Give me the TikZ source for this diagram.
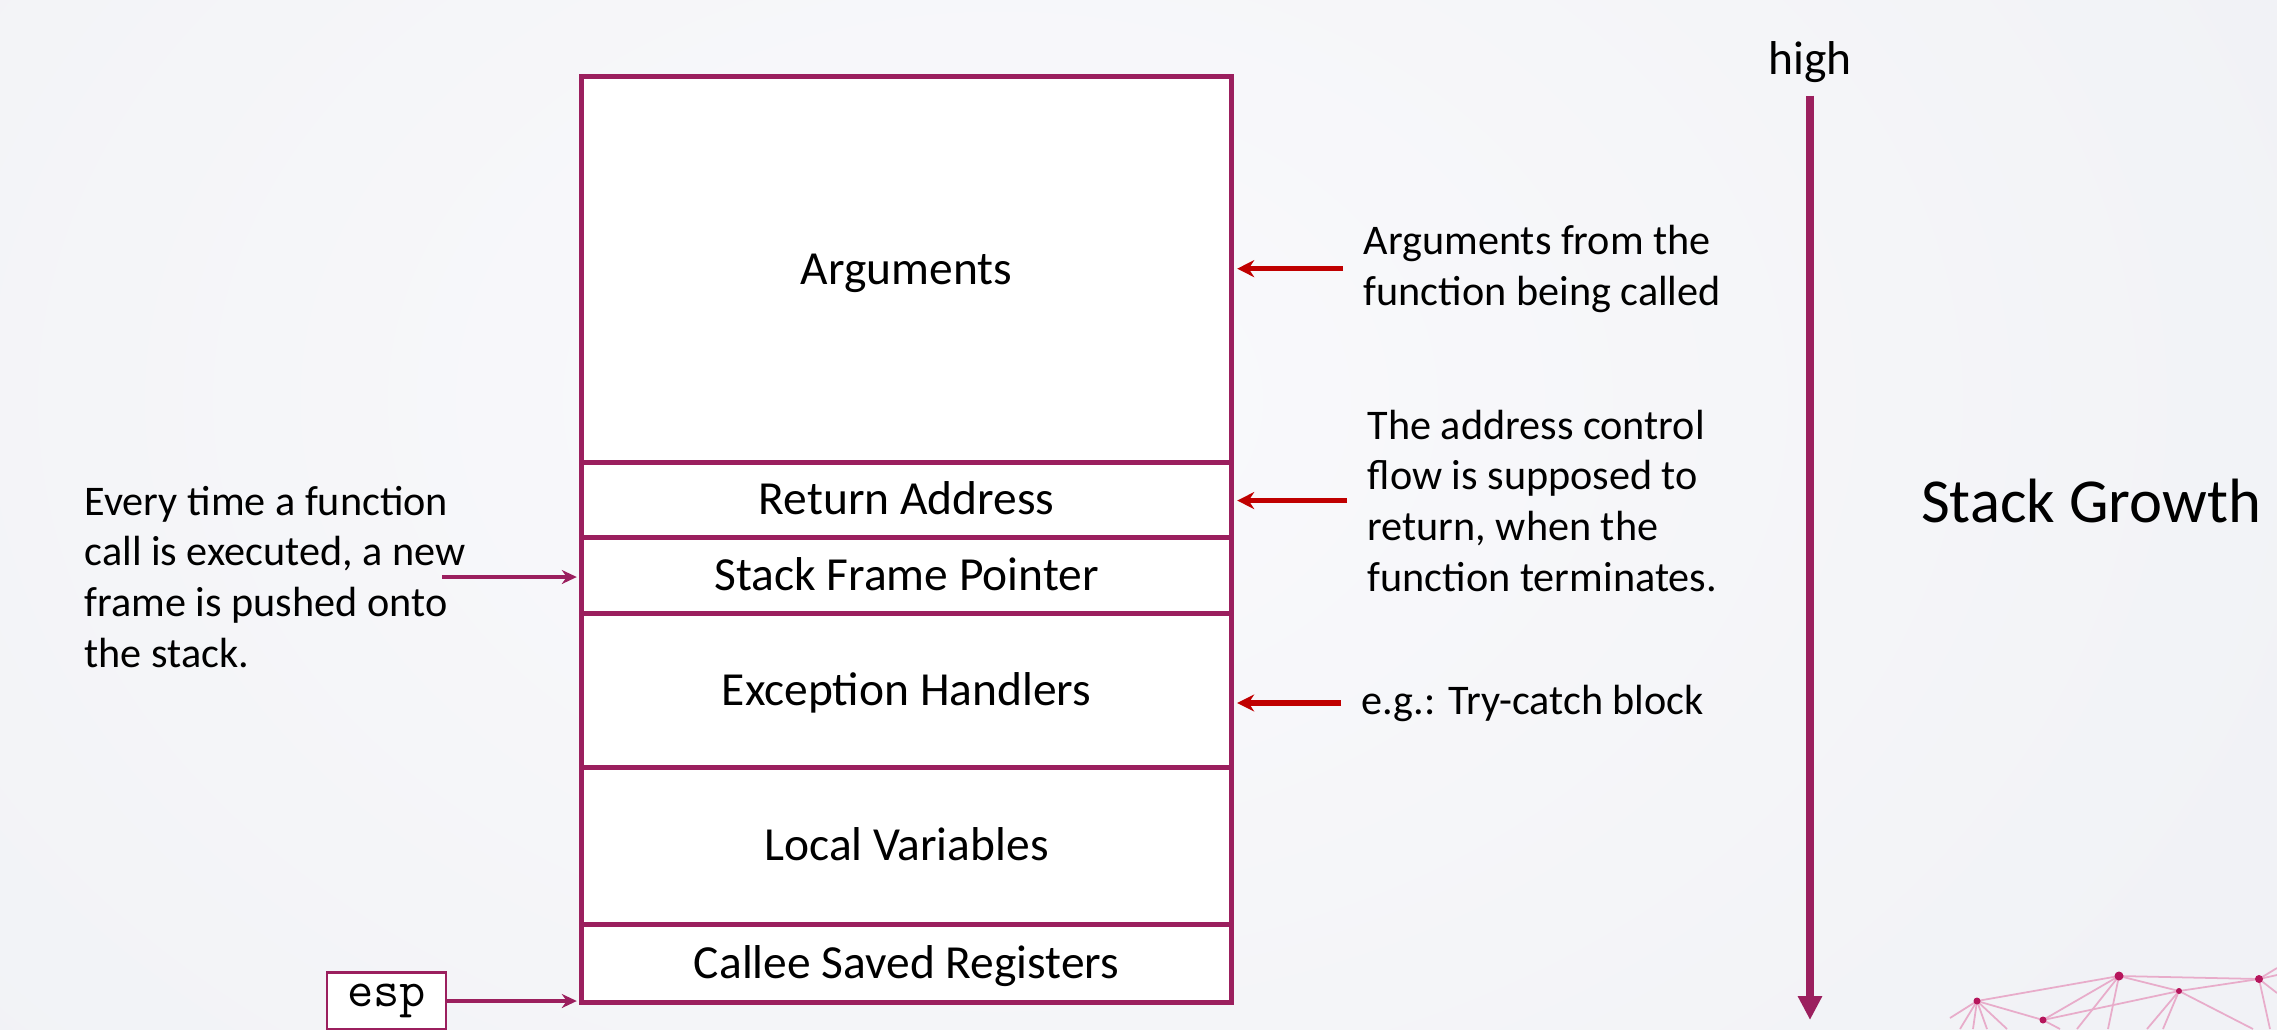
\documentclass[tikz,border=0pt]{standalone}
\usepackage{fontspec}
\setmainfont{Carlito}
\usetikzlibrary{arrows.meta,positioning}
\definecolor{stackpurple}{RGB}{155,31,94}
\definecolor{arrowred}{RGB}{192,0,0}
\definecolor{netpink}{RGB}{232,172,202}
\definecolor{netdot}{RGB}{182,22,92}
\definecolor{bglight}{RGB}{250,250,252}
\definecolor{bgdark}{RGB}{241,242,246}
\tikzset{
  frame/.style={draw=stackpurple,line width=1.4pt,fill=white,outer sep=0pt,
    minimum width=6.49cm,text height=11pt,text depth=2.5pt,font=\fontsize{13.5}{16}\selectfont},
  note/.style={align=left,inner xsep=0.2cm,inner ysep=0pt,font=\fontsize{12}{14.4}\selectfont},
  redarrow/.style={draw=arrowred,line width=1.6pt,-{Stealth[length=0.17cm,width=0.17cm]},shorten >=0.06cm},
  pusharrow/.style={draw=stackpurple,line width=1.2pt,-{Stealth[length=0.15cm,width=0.14cm]},shorten >=0.05cm},
}

\begin{document}
\begin{tikzpicture}[x=0.01cm,y=-0.01cm]
    % background
    \useasboundingbox (0,0) rectangle (2277,1029);
    \shade[inner color=bglight,outer color=bgdark] (-400,-600) rectangle (2400,1400);
    % network in the corner
    \coordinate (n1) at (1977,1001);
    \coordinate (n2) at (2043,1020);
    \coordinate (n3) at (2119,976);
    \coordinate (n4) at (2179,991);
    \coordinate (n5) at (2259,979);
    \foreach \a/\b in {n1/n2,n1/n3,n2/n3,n2/n4,n3/n4,n3/n5,n4/n5}
      \draw[netpink,line width=0.5pt] (\a) -- (\b);
    \foreach \a/\x/\y in {n1/1950/1018,n1/1960/1029,n1/1973/1029,n1/1987/1029,n1/2007/1029,
      n2/2060/1029,n3/2077/1029,n3/2108/1029,n4/2147/1029,n4/2163/1029,n4/2253/1029,
      n5/2277/968,n5/2277/975,n5/2270/1029,n5/2277/993}
      \draw[netpink,line width=0.5pt] (\a) -- (\x,\y);
    \foreach \a/\r in {n1/3.5,n2/3.5,n3/4.5,n4/3,n5/4}
      \fill[netdot] (\a) circle (\r);

    % the stack frame
    \node[frame,minimum height=3.85cm] (args) at (906.5,269.5) {Arguments};
    \node[frame,minimum height=0.75cm,below=0pt of args] (ret) {Return Address};
    \node[frame,minimum height=0.76cm,below=0pt of ret] (sfp) {Stack Frame Pointer};
    \node[frame,minimum height=1.54cm,below=0pt of sfp] (exc) {Exception Handlers};
    \node[frame,minimum height=1.57cm,below=0pt of exc] (loc) {Local Variables};
    \node[frame,minimum height=0.78cm,below=0pt of loc] (csr) {Callee Saved Registers};

    % notes on the right
    \node[note,anchor=base west] (argnote) at (1343,305) {Arguments from the\\function being called};
    \node[note,anchor=base west] (retnote) at (1347,591) {The address control\\flow is supposed to\\return, when the\\function terminates.};
    \node[note,anchor=base west] (egnote) at (1341,714) {e.g.: Try-catch block};
    \draw[redarrow] (argnote.west) -- (argnote.west -| args.east);
    \draw[redarrow] (retnote.west) -- (retnote.west -| ret.east);
    \draw[redarrow] (egnote.west) -- (egnote.west -| exc.east);

    % note on the left
    \node[note,anchor=base west,inner xsep=0pt] (pushnote) at (84,667) {Every time a function\\call is executed, a new\\frame is pushed onto\\the stack.};
    \coordinate (pushtail) at (442,577);
    \draw[pusharrow] (pushtail) -- (pushtail -| sfp.west);

    % stack pointer
    \node[draw=stackpurple,line width=0.8pt,fill=white,minimum width=1.19cm,minimum height=0.5cm,
      outer sep=0pt,font=\ttfamily\fontsize{14.5}{14.5}\selectfont] (esp) at (386.5,1001) {esp};
    \draw[pusharrow] (esp.east) -- (esp.east -| csr.west);

    % growth direction
    \node[font=\fontsize{13.5}{15}\selectfont,inner sep=3.5pt] (high) at (1810,62) {high};
    \coordinate (low) at (1810,1020);
    \draw[stackpurple,line width=2.4pt,-{Triangle[length=0.24cm,width=0.23cm]}] (high.south) -- (high.south |- low);
    \node[font=\fontsize{17.8}{20}\selectfont] (growth) at (2091,501) {Stack Growth};
\end{tikzpicture}
\end{document}
